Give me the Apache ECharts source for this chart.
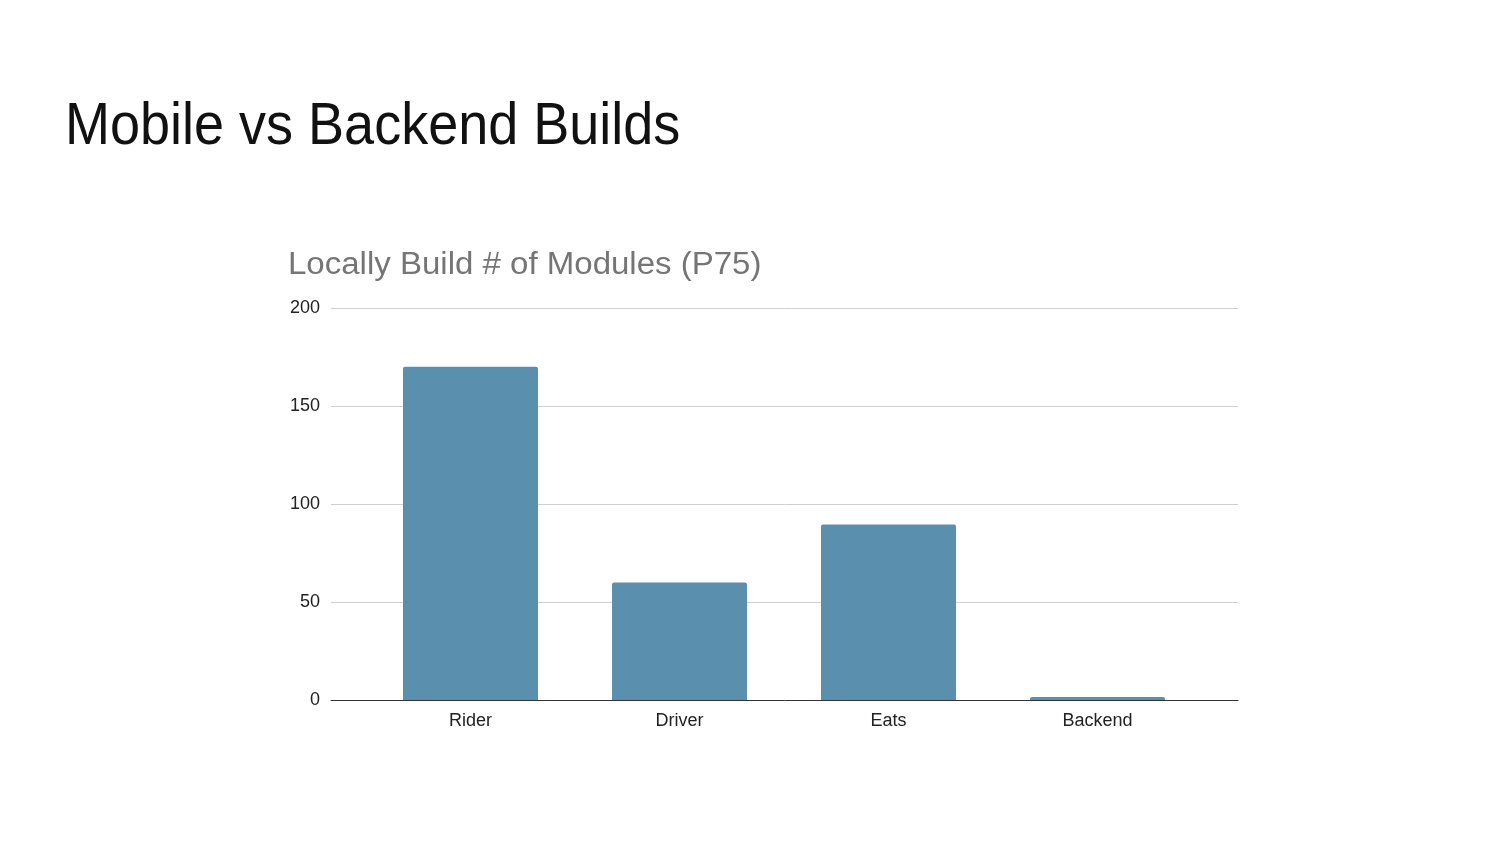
<!DOCTYPE html>
<html>
<head>
<meta charset="utf-8">
<script src="https://cdn.jsdelivr.net/npm/echarts@6/dist/echarts.min.js"></script>
<style>
  html, body { margin: 0; padding: 0; background: #fff; }
  #chart { width: 1500px; height: 844px; }
</style>
</head>
<body>
<div id="chart"></div>
<script>
// chart data
var categories = ['Rider', 'Driver', 'Eats', 'Backend']
var modules = [170, 60, 89.5, 1.5]
var yTicks = [0, 50, 100, 150, 200]

var chart = echarts.init(document.getElementById('chart'))

var font = '"Liberation Sans", Arial, sans-serif'

chart.setOption({
  backgroundColor: '#ffffff',
  animation: false,
  graphic: [
    {
      type: 'text',
      x: 65,
      y: 97,
      scaleX: 0.9,
      style: {
        text: 'Mobile vs Backend Builds',
        font: '400 60px ' + font,
        fill: '#111'
      }
    },
    {
      type: 'text',
      x: 288,
      y: 250,
      scaleX: 1.065,
      style: {
        text: 'Locally Build # of Modules (P75)',
        font: '400 31px ' + font,
        fill: '#757575'
      }
    }
  ],
  grid: [
    // grid for gridlines and y labels (wider than the bars band)
    { left: 331, right: 262, top: 308, bottom: 144 },
    // grid for bars
    { left: 366, right: 298, top: 308, bottom: 144 }
  ],
  xAxis: [
    {
      gridIndex: 0,
      type: 'value',
      min: 0,
      max: 1,
      axisLine: { show: true, onZero: false, lineStyle: { color: '#333', width: 1 } },
      axisTick: { show: false },
      axisLabel: { show: false },
      splitLine: { show: false }
    },
    {
      gridIndex: 1,
      type: 'category',
      data: categories,
      axisLine: { show: false },
      axisTick: { show: false },
      axisLabel: {
        margin: 12,
        fontSize: 18,
        fontFamily: font,
        color: '#222'
      }
    }
  ],
  yAxis: [
    {
      gridIndex: 0,
      type: 'value',
      min: yTicks[0],
      max: yTicks[yTicks.length - 1],
      interval: 50,
      axisLine: { show: false },
      axisTick: { show: false },
      axisLabel: {
        margin: 11,
        fontSize: 18,
        fontFamily: font,
        color: '#222'
      },
      splitLine: { lineStyle: { color: '#d0d0d0', width: 1 } }
    },
    {
      gridIndex: 1,
      type: 'value',
      min: yTicks[0],
      max: yTicks[yTicks.length - 1],
      show: false,
      splitLine: { show: false }
    }
  ],
  series: [
    {
      type: 'bar',
      xAxisIndex: 1,
      yAxisIndex: 1,
      data: modules,
      barWidth: '64.6%',
      itemStyle: { color: '#5a8fae', borderRadius: [2, 2, 0, 0] }
    }
  ]
})
</script>
</body>
</html>
